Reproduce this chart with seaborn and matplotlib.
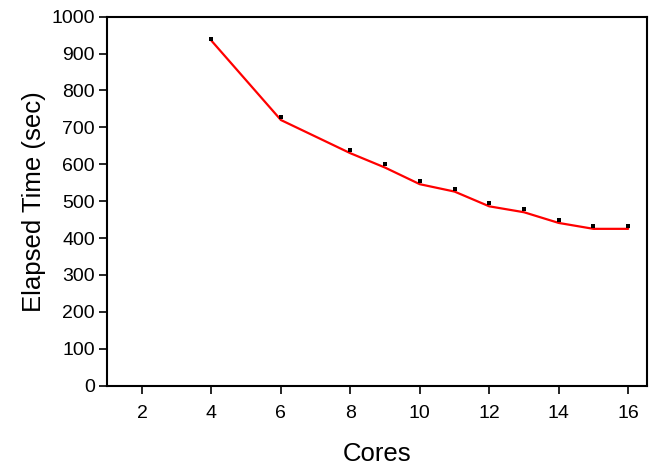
import matplotlib
matplotlib.use("Agg")
import matplotlib.pyplot as plt
import seaborn as sns
import pandas as pd

# Measured elapsed times per core count
cores = [4, 6, 8, 9, 10, 11, 12, 13, 14, 15, 16]
measured_sec = [940, 729, 640, 601, 556, 533, 495, 478, 450, 434, 434]
# Model curve
model_sec = [935, 720, 630, 591, 546, 526, 486, 470, 441, 425, 425]

x_ticks = [2, 4, 6, 8, 10, 12, 14, 16]
y_ticks = [0, 100, 200, 300, 400, 500, 600, 700, 800, 900, 1000]

df = pd.DataFrame({"Cores": cores, "Measured": measured_sec, "Model": model_sec})

sns.set_style("ticks")
plt.rcParams["font.family"] = ["Liberation Sans", "DejaVu Sans"]

fig = plt.figure(figsize=(6.54, 4.68), dpi=100)
ax = fig.add_axes([0.164, 0.176, 0.8257, 0.7883])

sns.lineplot(data=df, x="Cores", y="Model", color="#ff0000", linewidth=1.6, ax=ax)
sns.scatterplot(data=df, x="Cores", y="Measured", color="black", marker="s",
                s=11, linewidth=0, ax=ax, zorder=3)

ax.set_xlim(1.0, 16.55)
ax.set_ylim(0, 1000)
ax.set_xticks(x_ticks)
ax.set_yticks(y_ticks)
ax.tick_params(axis="both", direction="out", length=6, width=1.2,
               labelsize=14, color="black", labelcolor="black")
ax.tick_params(axis="x", pad=8)
ax.tick_params(axis="y", pad=3)
for side in ["top", "right", "bottom", "left"]:
    ax.spines[side].set_visible(True)
    ax.spines[side].set_linewidth(1.5)
    ax.spines[side].set_color("black")

ax.set_xlabel("Cores", fontsize=18.5, labelpad=14, color="black")
ax.set_ylabel("Elapsed Time (sec)", fontsize=18.5, labelpad=4, color="black")

fig.savefig("out.png", dpi=100)
